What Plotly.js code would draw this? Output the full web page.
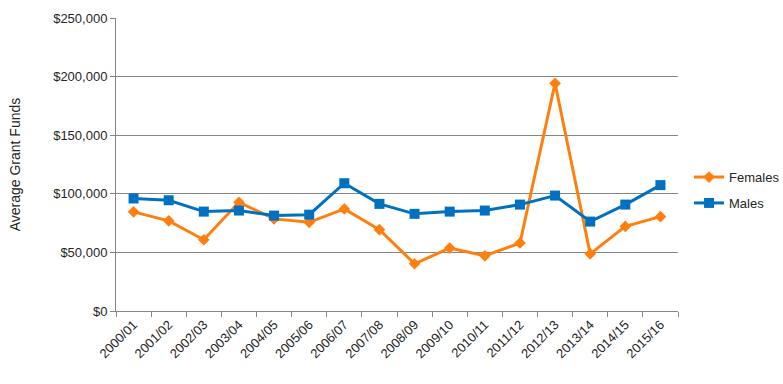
<!DOCTYPE html>
<html>
<head>
<meta charset="utf-8">
<script src="https://cdn.plot.ly/plotly-3.0.1.min.js"></script>
<style>html,body{margin:0;padding:0;background:#fff;}#chart{width:783px;height:384px;}</style>
</head>
<body>
<div id="chart"></div>
<script>
const years = ["2000/01","2001/02","2002/03","2003/04","2004/05","2005/06","2006/07","2007/08","2008/09","2009/10","2010/11","2011/12","2012/13","2013/14","2014/15","2015/16"];
const females = [84600, 76900, 60800, 92800, 78600, 75700, 87100, 69400, 40300, 53700, 47100, 58000, 194300, 48800, 72200, 80500];
const males = [96000, 94500, 84800, 85700, 81400, 82200, 109000, 91400, 82900, 84800, 85700, 90800, 98500, 76300, 90800, 107400];
const yTicks = [0, 50000, 100000, 150000, 200000, 250000];
const yTickText = yTicks.map(v => "$" + v.toLocaleString("en-US"));

const font = "Liberation Sans, Arial, sans-serif";
const traces = [
  {x: years, y: females, name: "Females", legendgroup: "f", type: "scatter", mode: "lines+markers",
   line: {color: "#FF7F0E", width: 3}, marker: {symbol: "diamond", size: 9, color: "#FF7F0E"}},
  {x: years, y: males, name: "Males", legendgroup: "m", type: "scatter", mode: "lines+markers",
   line: {color: "#0070C0", width: 3}, marker: {symbol: "square", size: 10, color: "#0070C0"}}
];
const layout = {
  width: 783, height: 384,
  margin: {l: 116, r: 105, t: 18, b: 73},
  paper_bgcolor: "#fff", plot_bgcolor: "#fff",
  font: {family: font, size: 13, color: "#262626"},
  showlegend: true,
  legend: {xref: "container", yref: "container", x: 0.88, xanchor: "left", y: 0.505, yanchor: "middle",
           font: {size: 13, color: "#262626"}, tracegroupgap: 6, itemwidth: 30, bgcolor: "rgba(0,0,0,0)"},
  xaxis: {type: "category", range: [-0.5, years.length - 0.5], autorange: false, tickangle: -45, showgrid: false, showline: true, linecolor: "#868686", linewidth: 1,
          ticks: "outside", tickson: "boundaries", ticklen: 5, tickcolor: "#868686", tickfont: {size: 13}, zeroline: false},
  yaxis: {range: [0, 250000], autorange: false, tickmode: "array", tickvals: yTicks, ticktext: yTickText, showgrid: true, gridcolor: "#868686", gridwidth: 1,
          showline: true, linecolor: "#868686", ticks: "outside", ticklen: 5, tickcolor: "#868686", zeroline: false, tickfont: {size: 13}},
  annotations: [{text: "Average Grant Funds", xref: "paper", yref: "paper", x: -0.18, y: 0.5, xanchor: "center", yanchor: "middle",
                 textangle: -90, showarrow: false, font: {size: 14, color: "#262626"}}]
};
Plotly.newPlot("chart", traces, layout, {displayModeBar: false, staticPlot: true});
</script>
</body>
</html>
